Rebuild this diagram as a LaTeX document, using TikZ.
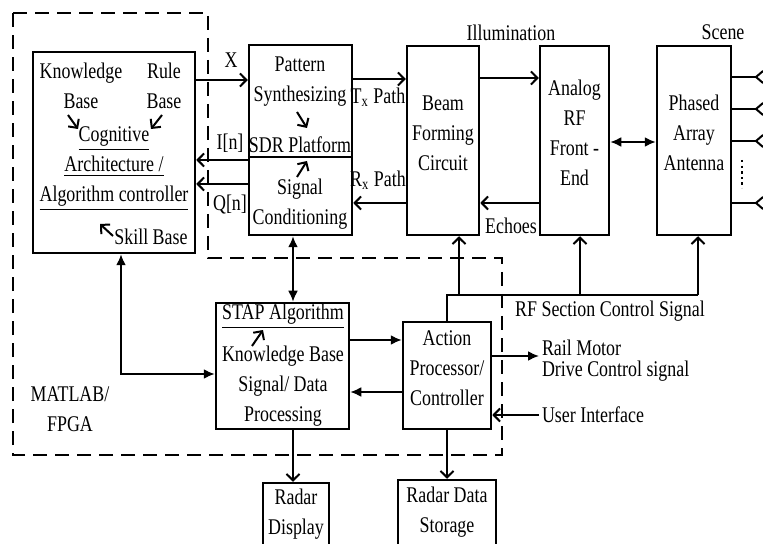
\documentclass[tikz,border=0pt]{standalone}
\usepackage{fontspec}
\setmainfont{Liberation Serif}[FakeStretch=0.8]
\usetikzlibrary{arrows.meta,fit}

\begin{document}
\begin{tikzpicture}[x=0.5pt,y=-0.5pt,line width=1pt,>={Straight Barb[length=3.2pt,width=6.5pt]}]
    \tikzstyle{every node}=[font=\fontsize{11.2}{15}\selectfont,inner sep=1pt,align=center];
    \tikzstyle{box}=[draw,line width=1.25pt,inner sep=0pt];
    \tikzstyle{tri}=[>={Latex[length=5.5pt,width=5pt]}];
    \tikzstyle{region}=[line width=1.2pt,dash pattern=on 7pt off 4pt];
    \useasboundingbox (0,0) rectangle (763,544);
    % blocks
    \node[box,fit={(33,52) (195,253)}] (cog) {};
    \node[box,fit={(249,45) (352,235)}] (psp) {};
    \node[box,fit={(407,46) (479,235)}] (bfc) {Beam\\Forming\\Circuit};
    \node[box,fit={(540,46) (609,235)}] (arf) {Analog\\RF\\Front -\\End};
    \node[box,fit={(657,46) (731,235)}] (paa) {Phased\\Array\\Antenna};
    \node[box,fit={(216,303) (349,429)}] (stap) {};
    \node[box,fit={(403,322) (491,429)}] (act) {Action\\Processor/\\Controller};
    \node[box,fit={(263,483) (329,546)}] (rdisp) {};
    \node[box,fit={(398,480) (496,546)}] (rstor) {};
    \node at (296,514) (rdispt) {Radar\\Display};
    \node at (447,512) (rstort) {Radar Data\\Storage};
    % texts in the cognitive block
    \node at (81,86) (kb) {Knowledge\\Base};
    \node at (164,86) (rb) {Rule\\Base};
    \node at (114,169) (ca) {\underline{Cognitive}\\\underline{Architecture /}\\\underline{Algorithm controller}};
    \node at (151,237) (sk) {Skill Base};
    \coordinate (k1) at (68,115);
    \coordinate (k2) at (78,129);
    \coordinate (r1) at (162,115);
    \coordinate (r2) at (151,129);
    \coordinate (s1) at (113,236);
    \coordinate (s2) at (100,224);
    % texts in the SDR block
    \node at (300,82) (pat) {Pattern\\Synthesizing};
    \node at (300,145) (sdr) {SDR Platform};
    \node at (300,204) (sgc) {Signal\\Conditioning};
    \coordinate (p1) at (297,112);
    \coordinate (p2) at (307,128);
    \coordinate (p3) at (297,177);
    \coordinate (p4) at (307,161);
    \draw[line width=1.25pt] (psp.west |- 0,157) -- (psp.east |- 0,157);
    % texts in the STAP block
    \node at (283,316) (stapt) {\underline{STAP Algorithm}};
    \node at (283,386) (stapb) {Knowledge Base\\Signal/ Data\\Processing};
    \coordinate (t1) at (252,346);
    \coordinate (t2) at (263,330);
    % labels
    \node at (231,60) (lx) {X};
    \node at (230,143) (li) {I[n]};
    \node at (230,205) (lq) {Q[n]};
    \node at (378,97) (ltx) {T\textsubscript{x} Path};
    \node at (378,180) (lrx) {R\textsubscript{x} Path};
    \node at (511,33) (lill) {Illumination};
    \node at (723,32) (lsc) {Scene};
    \node at (511,226) (lech) {Echoes};
    \node at (610,311) (lrf) {RF Section Control Signal};
    \node at (70,409) (lmat) {MATLAB/\\FPGA};
    \node[anchor=west,align=left] at (539,361) (rail) {Rail Motor\\[-4.5pt]Drive Control signal};
    \node[anchor=west] at (539,415) (ui) {User Interface};
    \draw[region] (13,13) -- (208,13) -- (208,258) -- (502,258) -- (502,455) -- (13,455) -- cycle;
    % small arrows
    \draw[->] (k1) to (k2);
    \draw[->] (r1) to (r2);
    \draw[->] (s1) to (s2);
    \draw[->] (p1) to (p2);
    \draw[->] (p3) to (p4);
    \draw[->] (t1) to (t2);
    % signal paths
    \draw[->] (cog.east |- 0,80) to (psp.west |- 0,80);
    \draw[->] (psp.west |- 0,160) to (cog.east |- 0,160);
    \draw[->] (psp.west |- 0,184) to (cog.east |- 0,184);
    \draw[->] (psp.east |- 0,79) to (bfc.west |- 0,79);
    \draw[->] (bfc.west |- 0,203) to (psp.east |- 0,203);
    \draw[->] (bfc.east |- 0,78) to (arf.west |- 0,78);
    \draw[->] (arf.west |- 0,203) to (bfc.east |- 0,203);
    \draw[tri,<->] (arf.east |- 0,142) to (paa.west |- 0,142);
    \draw[tri,<->] (cog.south -| 121,0) |- (stap.west |- 0,374);
    \draw[tri,<->] (psp.south -| 293,0) to (stap.north -| 293,0);
    \draw[tri,->] (stap.east |- 0,340) to (act.west |- 0,340);
    \draw[tri,->] (act.west |- 0,392) to (stap.east |- 0,392);
    \draw[->] (stap.south -| 293,0) to (rdisp.north -| 293,0);
    \draw[->] (act.south) to (rstor.north);
    \draw[tri,->] (act.east |- 0,356) to (rail.west |- 0,356);
    \draw[->] (ui.west) to (act.east |- ui.west);
    % RF section control
    \coordinate (rfb) at (459,295);
    \coordinate (rfa) at (580,295);
    \coordinate (rfp) at (698,295);
    \draw (act.north) |- (rfp);
    \draw[->] (rfb) to (bfc.south -| rfb);
    \draw[->] (rfa) to (arf.south -| rfa);
    \draw[->] (rfp) to (paa.south -| rfp);
    % antenna elements
    \coordinate (e1) at (756,77);
    \coordinate (e2) at (756,109);
    \coordinate (e3) at (756,141);
    \coordinate (e4) at (756,203);
    \draw (paa.east |- e1) to (e1);
    \draw (paa.east |- e2) to (e2);
    \draw (paa.east |- e3) to (e3);
    \draw (paa.east |- e4) to (e4);
    \draw ([shift={(7,-6)}]e1) -- (e1) -- ([shift={(7,6)}]e1);
    \draw ([shift={(7,-6)}]e2) -- (e2) -- ([shift={(7,6)}]e2);
    \draw ([shift={(7,-6)}]e3) -- (e3) -- ([shift={(7,6)}]e3);
    \draw ([shift={(7,-6)}]e4) -- (e4) -- ([shift={(7,6)}]e4);
    \draw[line width=1.2pt,dash pattern=on 1.2pt off 1.6pt] (742,160) -- (742,188);
\end{tikzpicture}
\end{document}
